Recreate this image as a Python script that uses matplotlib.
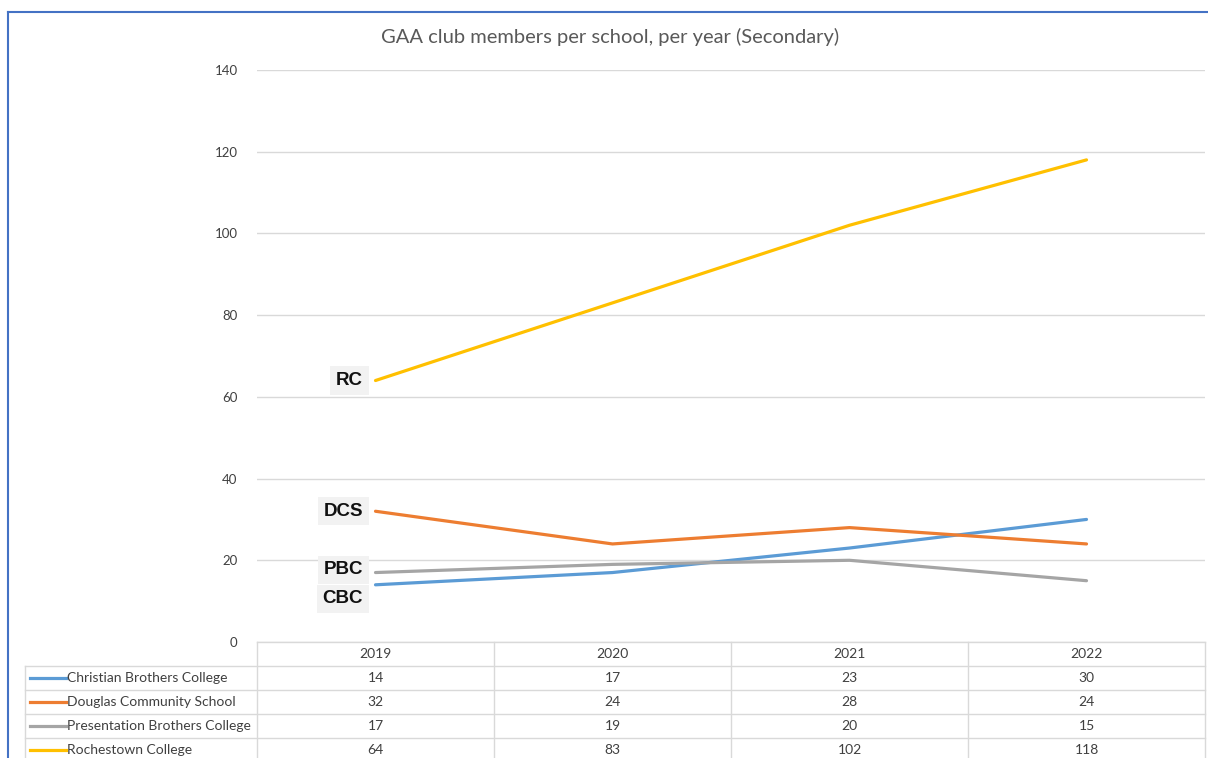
import matplotlib.pyplot as plt
from matplotlib.transforms import blended_transform_factory
from matplotlib.lines import Line2D

# data
years = ['2019', '2020', '2021', '2022']
schools = ['Christian Brothers College', 'Douglas Community School',
           'Presentation Brothers College', 'Rochestown College']
short_names = ['CBC', 'DCS', 'PBC', 'RC']
cbc = [14, 17, 23, 30]
dcs = [32, 24, 28, 24]
pbc = [17, 19, 20, 15]
rc = [64, 83, 102, 118]
series = [cbc, dcs, pbc, rc]

# styles
colors = ['#5B9BD5', '#ED7D31', '#A5A5A5', '#FFC000']
label_nudge = [-10, 0, 2, 0]  # points, keeps PBC and CBC apart
text_col = '#404040'
grid_col = '#d9d9d9'

plt.rcParams['font.family'] = ['Lato', 'DejaVu Sans']

W, H = 1208, 758
fig = plt.figure(figsize=(W / 100, H / 100), dpi=100)
ax = fig.add_axes([257 / W, 1 - 642 / H, (1205 - 257) / W, (642 - 70) / H])

xs = list(range(len(years)))
for vals, c in zip(series, colors):
    ax.plot(xs, vals, color=c, lw=2.3, solid_capstyle='round', zorder=3)

# short labels at the first point
for vals, name, dy in zip(series, short_names, label_nudge):
    ax.annotate(name, (0, vals[0]), xytext=(-9, dy), textcoords='offset points',
                ha='right', va='center', fontsize=13.5, fontweight='bold',
                family=['Liberation Sans', 'DejaVu Sans'], color='#111111',
                bbox=dict(boxstyle='square,pad=0.3', fc='#f2f2f2', ec='none'),
                zorder=4)

ax.set_xlim(-0.5, len(years) - 0.5)
ax.set_ylim(0, 140)
ax.set_yticks(range(0, 141, 20))
ax.set_xticks([])
ax.tick_params(axis='y', length=0, pad=14, labelsize=9.5, labelcolor=text_col)
ax.grid(axis='y', color=grid_col, lw=1)
ax.set_axisbelow(True)
for s in ax.spines.values():
    s.set_visible(False)

# data table under the plot
h = 24 / 572
left = (25 - 257) / 948
trans = blended_transform_factory(ax.transData, ax.transAxes)
line_kw = dict(color=grid_col, lw=1, clip_on=False)

ax.plot([-0.5, len(years) - 0.5], [0, 0], transform=trans, **line_kw)
for r in range(1, len(schools) + 1):
    ax.plot([left, 1], [-h * r, -h * r], transform=ax.transAxes, **line_kw)
for xv in [i - 0.5 for i in range(len(years) + 1)]:
    ax.plot([xv, xv], [0, -h * 6], transform=trans, **line_kw)
ax.plot([left, left], [-h, -h * 6], transform=ax.transAxes, **line_kw)

for i, yr in enumerate(years):
    ax.text(i, -h / 2, yr, transform=trans, ha='center', va='center',
            fontsize=10, color=text_col)
for r, (name, vals, c) in enumerate(zip(schools, series, colors)):
    yc = -h * (r + 1.5)
    ax.plot([(30 - 257) / 948, (66 - 257) / 948], [yc, yc], color=c, lw=2.3,
            transform=ax.transAxes, clip_on=False)
    ax.text((67 - 257) / 948, yc, name, transform=ax.transAxes, ha='left',
            va='center', fontsize=10, color=text_col)
    for i, v in enumerate(vals):
        ax.text(i, yc, str(v), transform=trans, ha='center', va='center',
                fontsize=10, color=text_col)

fig.text(610 / W, 1 - 37 / H, 'GAA club members per school, per year (Secondary)',
         ha='center', va='center', fontsize=14.5, color='#595959')

# chart frame (blue border, cut by the screenshot)
fig.add_artist(Line2D([8 / W, 8 / W], [0, 1 - 12 / H], color='#4472C4', lw=1.5))
fig.add_artist(Line2D([8 / W, 1], [1 - 12 / H, 1 - 12 / H], color='#4472C4', lw=1.5))

fig.savefig('out.png', dpi=100)
